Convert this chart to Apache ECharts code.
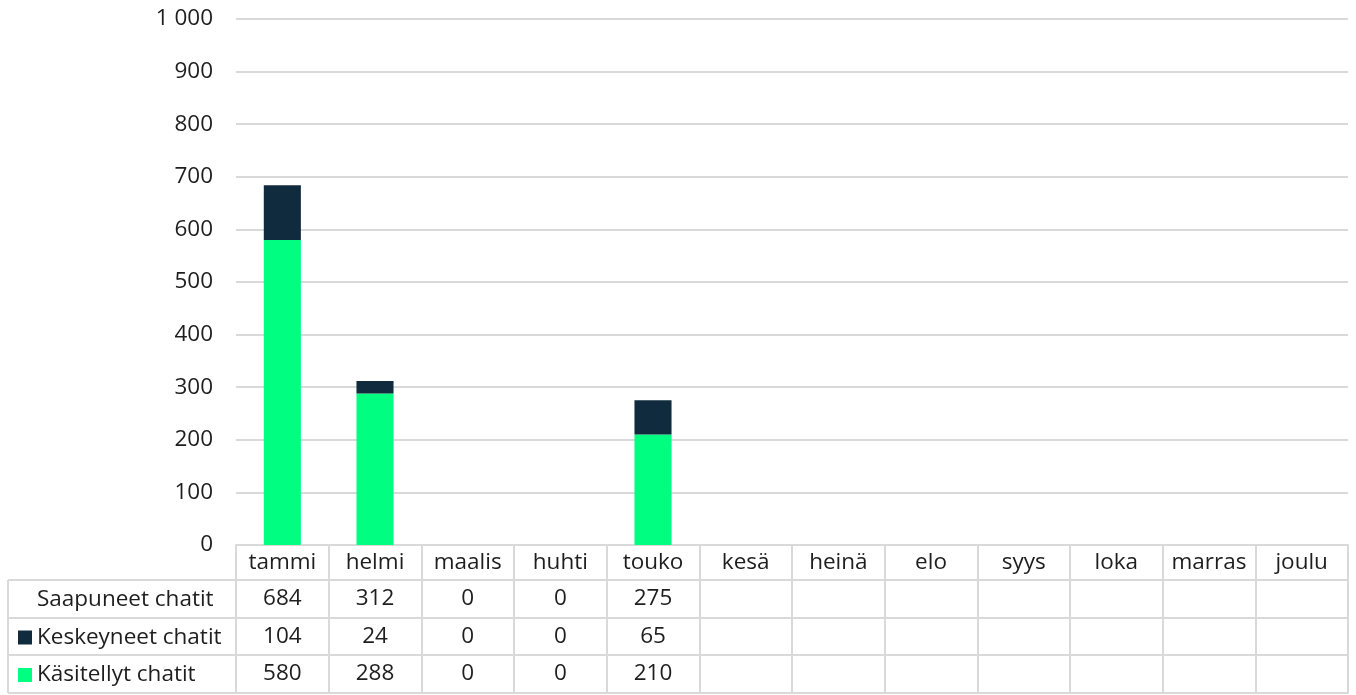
<!DOCTYPE html>
<html>
<head>
<meta charset="utf-8">
<script src="https://cdn.jsdelivr.net/npm/echarts@6/dist/echarts.min.js"></script>
<style>
  html, body { margin: 0; padding: 0; background: #fff; }
  #chart { width: 1356px; height: 695px; }
</style>
</head>
<body>
<div id="chart"></div>
<script>
const months = ['tammi', 'helmi', 'maalis', 'huhti', 'touko', 'kesä', 'heinä', 'elo', 'syys', 'loka', 'marras', 'joulu']
const saapuneet = [684, 312, 0, 0, 275, null, null, null, null, null, null, null]
const keskeyneet = [104, 24, 0, 0, 65, null, null, null, null, null, null, null]
const kasitellyt = [580, 288, 0, 0, 210, null, null, null, null, null, null, null]
const rowNames = ['Saapuneet chatit', 'Keskeyneet chatit', 'Käsitellyt chatit']

const FONT = '"Open Sans"'
const FS = 22.5
const TEXT = '#1e1e1e'
const LINE = '#d9d9d9'
const DARK = '#0f2b3d'
const GREEN = '#00ff80'

const chart = echarts.init(document.getElementById('chart'))

// one extra x axis per table row, its labels are the cell values
function rowAxis (values, offset) {
  return {
    type: 'category',
    gridIndex: 0,
    position: 'bottom',
    offset: offset,
    data: values.map(v => (v == null ? '' : String(v))),
    axisLine: { show: true, lineStyle: { color: LINE, width: 2 } },
    axisTick: { show: false },
    axisLabel: { interval: 0, margin: 7, color: TEXT, fontSize: FS, fontFamily: FONT }
  }
}

const rowTop = [580, 618, 655]
const legendColors = [null, DARK, GREEN]
const graphics = []
rowTop.concat([693]).forEach(y => {
  graphics.push({
    type: 'line', silent: true,
    shape: { x1: 8, y1: y, x2: 237, y2: y },
    style: { stroke: LINE, lineWidth: 2 }
  })
})
graphics.push({
  type: 'line', silent: true,
  shape: { x1: 8, y1: 580, x2: 8, y2: 693 },
  style: { stroke: LINE, lineWidth: 2 }
})
rowNames.forEach((name, i) => {
  const cy = (rowTop[i] + (rowTop[i + 1] || 693)) / 2
  if (legendColors[i]) {
    graphics.push({
      type: 'rect', silent: true,
      shape: { x: 18, y: cy - 6, width: 14, height: 14 },
      style: { fill: legendColors[i] }
    })
  }
  graphics.push({
    type: 'text', silent: true,
    x: 37, y: cy + 1,
    style: { text: name, fill: TEXT, font: FS + 'px ' + FONT, verticalAlign: 'middle', align: 'left' }
  })
})

const option = {
  animation: false,
  grid: { left: 236, right: 8, top: 19, bottom: 150 },
  xAxis: [
    {
      type: 'category',
      data: months,
      position: 'bottom',
      axisLine: { show: true, lineStyle: { color: LINE, width: 2 } },
      axisTick: { show: true, interval: 0, length: 148, lineStyle: { color: LINE, width: 2 } },
      axisLabel: { interval: 0, margin: 6, color: TEXT, fontSize: FS, fontFamily: FONT }
    },
    rowAxis(saapuneet, 35),
    rowAxis(keskeyneet, 73),
    rowAxis(kasitellyt, 110),
    {
      type: 'category',
      position: 'bottom',
      offset: 148,
      data: months,
      axisLine: { show: true, lineStyle: { color: LINE, width: 2 } },
      axisTick: { show: false },
      axisLabel: { show: false }
    }
  ],
  yAxis: {
    type: 'value',
    min: 0,
    max: 1000,
    interval: 100,
    axisLine: { show: false },
    axisTick: { show: false },
    splitLine: { lineStyle: { color: LINE, width: 2 } },
    axisLabel: {
      margin: 23,
      color: TEXT,
      fontSize: FS,
      fontFamily: FONT,
      formatter: v => String(v).replace(/\B(?=(\d{3})+(?!\d))/g, ' ')
    }
  },
  series: [
    {
      name: 'Käsitellyt chatit',
      type: 'bar',
      stack: 'chatit',
      barWidth: '40%',
      itemStyle: { color: GREEN },
      data: kasitellyt
    },
    {
      name: 'Keskeyneet chatit',
      type: 'bar',
      stack: 'chatit',
      barWidth: '40%',
      itemStyle: { color: DARK },
      data: keskeyneet
    }
  ],
  graphic: graphics
}

chart.setOption(option)
</script>
</body>
</html>
